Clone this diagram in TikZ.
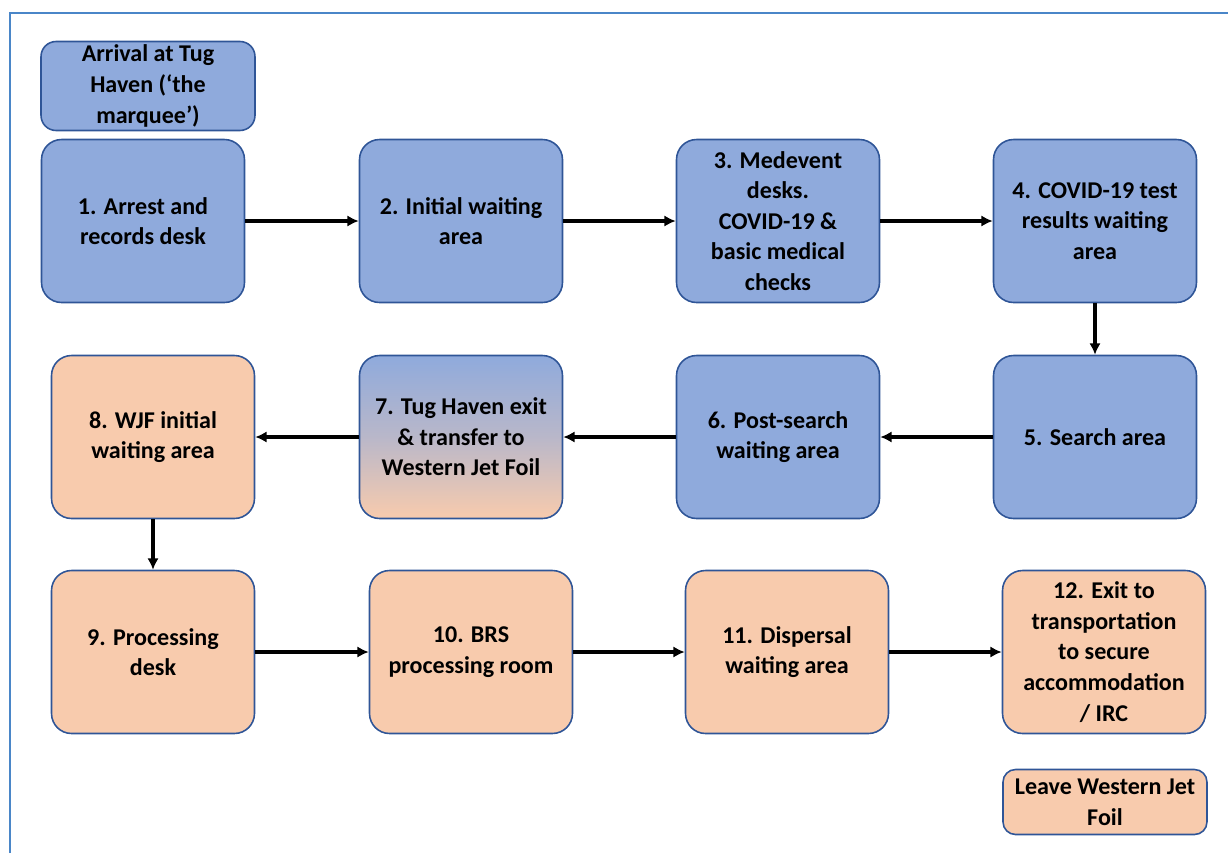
\documentclass[tikz,border=0pt]{standalone}
\usepackage{fontspec}
\setmainfont{Carlito}
\usetikzlibrary{arrows.meta}
\definecolor{bluefill}{RGB}{143,170,220}
\definecolor{orangefill}{RGB}{248,203,173}
\definecolor{boxline}{RGB}{47,85,151}
\definecolor{frameline}{RGB}{74,134,200}

\begin{document}
\begin{tikzpicture}
[x=0.02cm, y=-0.02cm, >={Latex[length=6.5pt,width=6.5pt]},
 every node/.style={font=\bfseries\fontsize{13.7}{17.4}\selectfont, align=center},
 stage/.style={draw=boxline, line width=0.9pt, rounded corners=0.4cm, inner sep=2pt,
               minimum width=4.06cm, minimum height=3.26cm},
 bluestage/.style={stage, fill=bluefill},
 orangestage/.style={stage, fill=orangefill},
 every edge/.append style={line width=1.9pt}]
\useasboundingbox (0,0) rectangle (1228,853);
\draw [frameline, line width=1.5pt] (10,853) -- (10,13) -- (1228,13);
\node (0) at (148,86) [bluestage, minimum width=4.28cm, minimum height=1.78cm, rounded corners=0.3cm]
      {Arrival at Tug\\ Haven (‘the\\ marquee’)};
\node (1) at (143,221) [bluestage] {1. Arrest and\\ records desk};
\node (2) at (461,221) [bluestage] {2. Initial waiting\\ area};
\node (3) at (778,221) [bluestage] {3. Medevent\\ desks.\\ COVID-19 \&\\ basic medical\\ checks};
\node (4) at (1095,221) [bluestage] {4. COVID-19 test\\ results waiting\\ area};
\node (5) at (1095,437) [bluestage] {5. Search area};
\node (6) at (778,437) [bluestage] {6. Post-search\\ waiting area};
\node (7) at (461,437) [stage, top color=bluefill, bottom color=orangefill, middle color=bluefill!60!orangefill]
      {7. Tug Haven exit\\ \& transfer to\\ Western Jet Foil};
\node (8) at (153,437) [orangestage] {8. WJF initial\\ waiting area};
\node (9) at (153,652) [orangestage] {9. Processing\\ desk};
\node (10) at (471,652) [orangestage] {10. BRS\\ processing room};
\node (11) at (787,652) [orangestage] {11. Dispersal\\ waiting area};
\node (12) at (1104,652) [orangestage] {12. Exit to\\ transportation\\ to secure\\ accommodation\\ / IRC};
\node (13) at (1105,802) [orangestage, minimum width=4.08cm, minimum height=1.3cm, rounded corners=0.25cm]
      {Leave Western Jet\\ Foil};
\draw [->] (1) edge (2);
\draw [->] (2) edge (3);
\draw [->] (3) edge (4);
\draw [->] (4) edge (5);
\draw [->] (5) edge (6);
\draw [->] (6) edge (7);
\draw [->] (7) edge (8);
\draw [->] (8) edge (9);
\draw [->] (9) edge (10);
\draw [->] (10) edge (11);
\draw [->] (11) edge (12);
\end{tikzpicture}
\end{document}
